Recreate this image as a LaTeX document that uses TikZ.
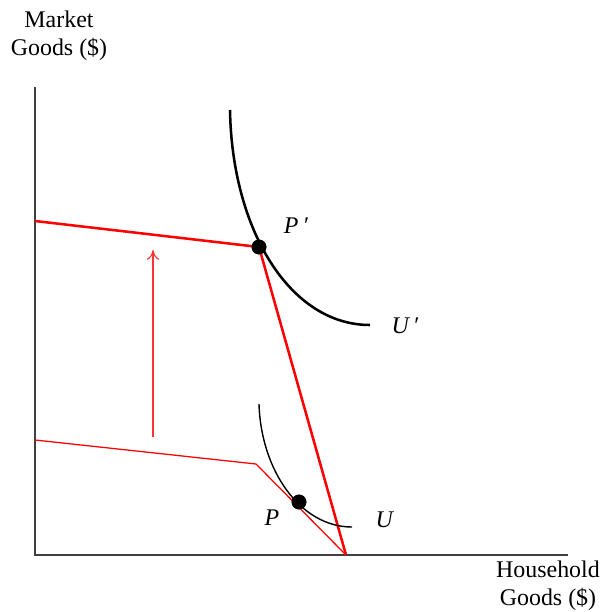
\documentclass[tikz,border=0pt]{standalone}
\usepackage{fontspec}
\setmainfont{Liberation Serif}
\usetikzlibrary{arrows.meta}

\begin{document}
\begin{tikzpicture}[x=0.025cm, y=-0.025cm,
        axis/.style={draw=black!75, line width=1.1pt},
        budget/.style={draw=red, line width=1.8pt},
        oldbudget/.style={draw=red, line width=0.9pt},
        indiff/.style={draw=black, line width=1.8pt},
        oldindiff/.style={draw=black, line width=1pt},
        dot/.style={circle, fill=black, inner sep=0pt, minimum size=10.5pt},
        lbl/.style={font=\fontsize{17}{20}\selectfont, align=center},
        shiftarrow/.style={-{To[length=7pt, width=9pt]}, red!80, line width=0.8pt}
      ]
        \useasboundingbox (0,0) rectangle (603,612);
        % axes
        \coordinate (origin) at (35,555);
        \coordinate (ytop) at (35,87);
        \coordinate (xend) at (568,555);
        \draw[axis] (ytop) -- (origin) -- (xend);
        \node[lbl] (ylabel) at (59,36) {Market\\Goods (\$)};
        \node[lbl] (xlabel) at (548,586) {Household\\Goods (\$)};
        % budget lines
        \coordinate (corner) at (346,555);
        \coordinate (newtop) at (35,221);
        \coordinate (oldtop) at (35,440);
        \coordinate (oldkink) at (256,464);
        \node[dot] (Pp) at (259,247) {};
        \node[dot] (P) at (299,502) {};
        \draw[budget] (newtop) -- (Pp.center) -- (corner);
        \draw[oldbudget] (oldtop) -- (oldkink) -- (corner);
        % indifference curves
        \draw[indiff] (230,110) .. controls (232,230) and (290,325) .. (370,325);
        \draw[oldindiff] (259,404) .. controls (261,470) and (300,527) .. (352,527);
        \node[dot] at (Pp) {};
        \node[dot] at (P) {};
        % shift
        \coordinate (shiftfrom) at (153,437);
        \coordinate (shiftto) at (153,250);
        \draw[shiftarrow] (shiftfrom) -- (shiftto);
        % labels
        \node[lbl] (Pplabel) at (296,226) {\textit{P\,′}};
        \node[lbl] (Uplabel) at (405,326) {\textit{U\,′}};
        \node[lbl] (Plabel) at (272,518) {\textit{P}};
        \node[lbl] (Ulabel) at (385,520) {\textit{U}};
      \end{tikzpicture}
\end{document}
